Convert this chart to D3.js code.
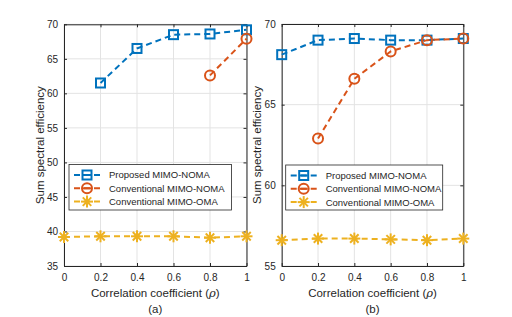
<!DOCTYPE html>
<html><head><meta charset="utf-8">
<script src="https://cdn.jsdelivr.net/npm/d3@7"></script>
<style>body{margin:0;background:#fff}svg{display:block}text{font-family:"Liberation Sans",Arial,sans-serif;fill:#262626}</style>
</head><body><svg id="c" width="512" height="317"></svg>
<script>
const xTicks = [0, 0.2, 0.4, 0.6, 0.8, 1];
const seriesNames = ["Proposed MIMO-NOMA", "Conventional MIMO-NOMA", "Conventional MIMO-OMA"];
const seriesColors = ["#0072BD", "#D95319", "#EDB120"];
const seriesMarkers = ["square", "circle", "star"];

// panel (a)
const aProposed = [null, 61.5, 66.5, 68.5, 68.6, 69.2];
const aConvNoma = [null, null, null, null, 62.6, 67.9];
const aOma = [39.2, 39.3, 39.3, 39.3, 39.1, 39.3];
const aYTicks = [35, 40, 45, 50, 55, 60, 65, 70];

// panel (b)
const bProposed = [68.1, 69.0, 69.1, 69.0, 69.0, 69.1];
const bConvNoma = [null, 62.9, 66.6, 68.3, 69.0, 69.1];
const bOma = [56.6, 56.7, 56.7, 56.65, 56.6, 56.7];
const bYTicks = [55, 60, 65, 70];

const svg = d3.select("#c");

function marker(g, type, color, x, y) {
  if (type === "square") {
    g.append("rect").attr("x", x - 4.5).attr("y", y - 4.5).attr("width", 9).attr("height", 9)
      .attr("fill", "none").attr("stroke", color).attr("stroke-width", 2);
  } else if (type === "circle") {
    g.append("circle").attr("cx", x).attr("cy", y).attr("r", 5)
      .attr("fill", "none").attr("stroke", color).attr("stroke-width", 2);
  } else {
    const r = 6;
    for (let i = 0; i < 4; i++) {
      const a = i * Math.PI / 4;
      g.append("line").attr("x1", x - r * Math.cos(a)).attr("y1", y - r * Math.sin(a))
        .attr("x2", x + r * Math.cos(a)).attr("y2", y + r * Math.sin(a))
        .attr("stroke", color).attr("stroke-width", 2);
    }
  }
}

function panel(opt) {
  const { left, right, top, bottom, yDomain, yTicks, series, caption, ylabelX, legend } = opt;
  const x = d3.scaleLinear().domain([0, 1]).range([left, right]);
  const y = d3.scaleLinear().domain(yDomain).range([bottom, top]);
  const g = svg.append("g");
  // grid
  g.append("g").selectAll("line").data(xTicks).join("line")
    .attr("x1", d => x(d)).attr("x2", d => x(d)).attr("y1", top).attr("y2", bottom)
    .attr("stroke", "#e3e3e3").attr("stroke-width", 1);
  g.append("g").selectAll("line").data(yTicks).join("line")
    .attr("x1", left).attr("x2", right).attr("y1", d => y(d)).attr("y2", d => y(d))
    .attr("stroke", "#e3e3e3").attr("stroke-width", 1);
  // axes via d3
  const ax = d3.axisBottom(x).tickValues(xTicks).tickFormat(d3.format("")).tickSizeInner(-3).tickSizeOuter(0).tickPadding(8);
  const ay = d3.axisLeft(y).tickValues(yTicks).tickSizeInner(-3).tickSizeOuter(0).tickPadding(6);
  const gx = g.append("g").attr("transform", `translate(0,${bottom})`).call(ax);
  const gy = g.append("g").attr("transform", `translate(${left},0)`).call(ay);
  const gx2 = g.append("g").attr("transform", `translate(0,${top})`).call(d3.axisTop(x).tickValues(xTicks).tickFormat("").tickSizeInner(-3).tickSizeOuter(0));
  const gy2 = g.append("g").attr("transform", `translate(${right},0)`).call(d3.axisRight(y).tickValues(yTicks).tickFormat("").tickSizeInner(-3).tickSizeOuter(0));
  [gx, gy, gx2, gy2].forEach(a => {
    a.select(".domain").attr("stroke", "#262626").attr("stroke-width", 1);
    a.selectAll(".tick line").attr("stroke", "#262626");
    a.selectAll("text").attr("font-size", 10).attr("fill", "#262626").attr("font-family", '"Liberation Sans",Arial,sans-serif');
  });
  // series
  series.forEach((vals, i) => {
    const pts = xTicks.map((xv, j) => [xv, vals[j]]).filter(p => p[1] != null);
    const line = d3.line().x(p => x(p[0])).y(p => y(p[1]));
    g.append("path").attr("d", line(pts)).attr("fill", "none").attr("stroke", seriesColors[i])
      .attr("stroke-width", 2).attr("stroke-dasharray", "6,4");
    pts.forEach(p => marker(g, seriesMarkers[i], seriesColors[i], x(p[0]), y(p[1])));
  });
  // labels
  g.append("text").attr("x", (left + right) / 2).attr("y", 297).attr("text-anchor", "middle").attr("font-size", 11.5)
    .html('Correlation coefficient (<tspan font-style="italic" font-family="DejaVu Serif">ρ</tspan>)');
  g.append("text").attr("x", (left + right) / 2).attr("y", 313).attr("text-anchor", "middle").attr("font-size", 11.5).text(caption);
  g.append("text").attr("transform", `translate(${ylabelX},${(top + bottom) / 2}) rotate(-90)`).attr("text-anchor", "middle")
    .attr("font-size", 11.5).text("Sum spectral efficiency");
  // legend
  const L = legend;
  g.append("rect").attr("x", L.x).attr("y", L.y).attr("width", L.w).attr("height", L.h)
    .attr("fill", "#fff").attr("stroke", "#262626").attr("stroke-width", 0.8);
  seriesNames.forEach((n, i) => {
    const cy = L.y + 10.5 + i * 13.3;
    g.append("line").attr("x1", L.x + 5).attr("x2", L.x + 31).attr("y1", cy).attr("y2", cy)
      .attr("stroke", seriesColors[i]).attr("stroke-width", 2).attr("stroke-dasharray", "6,4");
    marker(g, seriesMarkers[i], seriesColors[i], L.x + 18, cy);
    if (seriesMarkers[i] !== "star") {
      g.append("line").attr("x1", L.x + 14).attr("x2", L.x + 22).attr("y1", cy).attr("y2", cy)
        .attr("stroke", seriesColors[i]).attr("stroke-width", 2);
    }
    g.append("text").attr("x", L.x + 40).attr("y", cy + 3.4).attr("font-size", 9.5).text(n);
  });
}

panel({ left: 64, right: 246.5, top: 24.3, bottom: 266, yDomain: [35, 70], yTicks: aYTicks,
  series: [aProposed, aConvNoma, aOma], caption: "(a)", ylabelX: 44,
  legend: { x: 69, y: 164.5, w: 162.5, h: 45.5 } });
panel({ left: 281.7, right: 463.3, top: 24, bottom: 266, yDomain: [55, 70], yTicks: bYTicks,
  series: [bProposed, bConvNoma, bOma], caption: "(b)", ylabelX: 261,
  legend: { x: 285.7, y: 165, w: 157, h: 45 } });
</script></body></html>
